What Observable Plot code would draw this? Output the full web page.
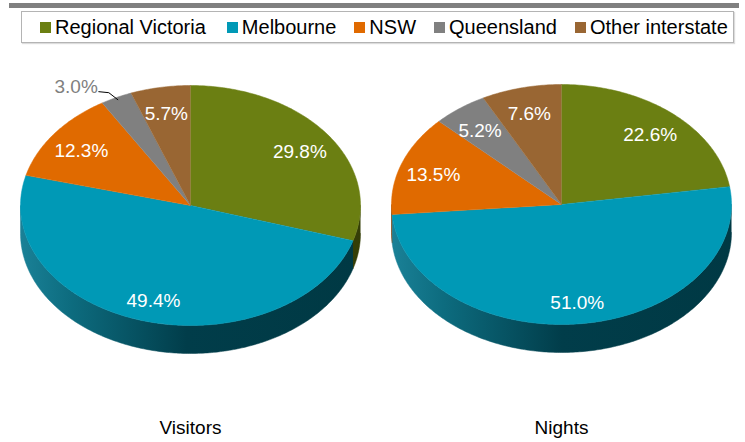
<!DOCTYPE html>
<html>
<head>
<meta charset="utf-8">
<script src="https://cdn.jsdelivr.net/npm/d3@7"></script>
<script src="https://cdn.jsdelivr.net/npm/@observablehq/plot@0.6"></script>
<style>
  body { margin: 0; background: #fff; font-family: "Liberation Sans", Arial, sans-serif; }
  #hdr { position: relative; width: 745px; height: 48px; }
  #bar { position: absolute; left: 9px; top: 3px; width: 730px; height: 5px; background: #808080; }
  #legend { position: absolute; left: 21px; top: 11px; width: 693px; height: 30px; border: 1px solid #b4b4b4;
    box-shadow: 1px 1px 1px #dcdcdc; background: #fff; display: flex; align-items: center; padding-left: 18px; box-sizing: content-box; }
  .item { display: flex; align-items: center; margin-right: 18px; font-size: 20px; color: #000; white-space: nowrap; }
  .item:first-child { margin-right: 21px; }
  .sw { width: 11px; height: 11px; margin-right: 4px; }
</style>
</head>
<body>
<div id="hdr"><div id="bar"></div><div id="legend"></div></div>
<div id="chart"></div>
<script>
// ---- data ----
const categories = ["Regional Victoria", "Melbourne", "NSW", "Queensland", "Other interstate"];
const pieNames = ["Visitors", "Nights"];
const visitors = [29.8, 49.4, 12.3, 3.0, 5.7];
const nights = [22.6, 51.0, 13.5, 5.2, 7.6];

// ---- styles ----
const topColors = ["#6b7f12", "#0099b6", "#e06a00", "#808080", "#996633"];
const sideColors = ["#343e07", "url(#gradMelb)", "#7a3900", "#444444", "#4d3319"];

// legend
const legend = d3.select("#legend");
categories.forEach((c, i) => {
  const it = legend.append("div").attr("class", "item");
  it.append("div").attr("class", "sw").style("background", topColors[i]);
  it.append("span").text(c);
});

// ---- layout ----
const W = 745, H = 394;
const centers = [{cx: 190, cy: 157}, {cx: 561, cy: 156}];
const rx = 170, ry = 120, depth = 28;
const fmt = d => d3.format(".1f")(d) + "%";

const pie = d3.pie().sort(null).value(d => d);
const marks = [];
const labels = [];
const outLabels = [];
const leaders = [];

[visitors, nights].forEach((vals, p) => {
  const {cx, cy} = centers[p];
  const pt = (t, k = 1, dz = 0) => ({x: cx + rx * k * Math.sin(t), y: cy - ry * k * Math.cos(t) + dz});
  const arc = (a, b, dz) => {
    const n = Math.max(2, Math.ceil(Math.abs(b - a) / (Math.PI / 240)) + 1);
    return d3.range(n).map(i => pt(a + (b - a) * i / (n - 1), 1, dz));
  };
  const arcs = pie(vals);
  // side walls (front half only)
  arcs.forEach((s, i) => {
    const a = Math.max(s.startAngle, Math.PI / 2), b = Math.min(s.endAngle, 3 * Math.PI / 2);
    if (a < b) {
      const poly = [...arc(a, b, 0), ...arc(b, a, depth)];
      marks.push(Plot.line(poly, {x: "x", y: "y", fill: sideColors[i], stroke: sideColors[i], strokeWidth: 0.5}));
    }
  });
  // top faces
  arcs.forEach((s, i) => {
    const poly = [{x: cx, y: cy}, ...arc(s.startAngle, s.endAngle, 0)];
    marks.push(Plot.line(poly, {x: "x", y: "y", fill: topColors[i], stroke: topColors[i], strokeWidth: 0.5}));
  });
  // labels
  arcs.forEach((s, i) => {
    const m = (s.startAngle + s.endAngle) / 2;
    if (s.value < 4) {
      const p0 = pt(m, 0.98);
      const e = {x: p0.x - 9, y: p0.y - 7};
      const end = {x: e.x - 10, y: e.y - 1};
      leaders.push([p0, e, end]);
      outLabels.push({x: end.x - 1, y: end.y - 5, text: fmt(s.value)});
    } else {
      const c = pt(m, 0.8, 3);
      labels.push({x: c.x, y: c.y, text: fmt(s.value)});
    }
  });
});

const titles = pieNames.map((n, i) => ({x: centers[i].cx, y: 379, text: n}));

const chart = Plot.plot({
  width: W, height: H, margin: 0,
  x: {domain: [0, W], range: [0, W], axis: null},
  y: {domain: [0, H], range: [0, H], axis: null},
  style: {fontFamily: "'Liberation Sans', Arial, sans-serif", background: "transparent"},
  marks: [
    ...marks,
    ...leaders.map(l => Plot.line(l, {x: "x", y: "y", stroke: "#000", strokeWidth: 1})),
    Plot.text(labels, {x: "x", y: "y", text: "text", fill: "#fff", fontSize: 19}),
    Plot.text(outLabels, {x: "x", y: "y", text: "text", fill: "#808080", fontSize: 19, textAnchor: "end"}),
    Plot.text(titles, {x: "x", y: "y", text: "text", fill: "#000", fontSize: 19})
  ]
});

// gradient for the Melbourne side wall
const svg = d3.select(chart);
const defs = svg.insert("defs", ":first-child");
const g = defs.append("linearGradient").attr("id", "gradMelb")
  .attr("x1", "0").attr("x2", "1").attr("y1", "0").attr("y2", "0");
[[0, "#1a8197"], [0.15, "#0d6c7f"], [0.5, "#013d4a"], [1, "#003944"]].forEach(([o, c]) =>
  g.append("stop").attr("offset", o).attr("stop-color", c));

document.getElementById("chart").appendChild(chart);
</script>
</body>
</html>
